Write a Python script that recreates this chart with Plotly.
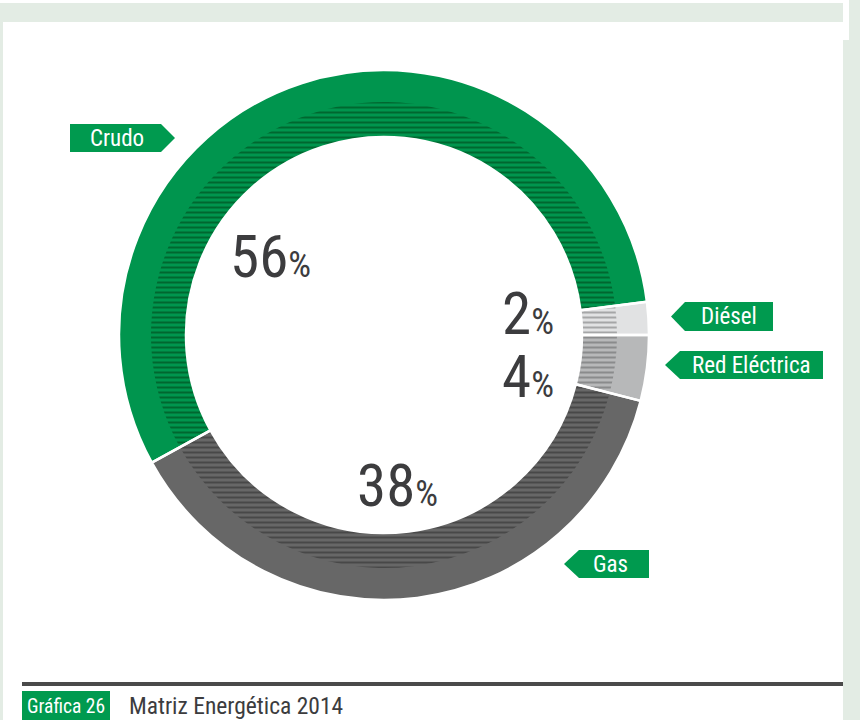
import plotly.graph_objects as go

# Energy matrix 2014 (share of total, %)
labels = ["Diésel", "Red Eléctrica", "Gas", "Crudo"]
values = [2, 4, 38, 56]
slice_colors = ["#e1e2e3", "#b7b8b9", "#676767", "#00954e"]
stripe_colors = ["#a5a6a7", "#8a8b8c", "#484848", "#00672f"]

title_tag = "Gráfica 26"
title_text = "Matriz Energética 2014"

W, H = 860, 720
CX, CY = 384, 335          # donut centre (px)
R_OUT, R_STRIPE, R_IN = 265, 233, 198

FONT = "Roboto Condensed, Liberation Sans Narrow, Roboto, sans-serif"
GREEN = "#009a4f"
TEXT = "#3c3c3e"
FRAME = "#e3ece4"


def px(x):
    return x / W


def py(y):
    return 1 - y / H


def domain(r):
    return dict(x=[px(CX - r), px(CX + r)], y=[py(CY + r), py(CY - r)])


start = 90 - 360 * values[0] / 100   # first slice (Diésel) ends at 3 o'clock
common = dict(labels=labels, values=values, sort=False, direction="clockwise",
              rotation=start, textinfo="none", showlegend=False)

# solid ring
fig = go.Figure()
fig.add_trace(go.Pie(
    **common, hole=R_IN / R_OUT, domain=domain(R_OUT),
    marker=dict(colors=slice_colors, line=dict(width=0)),
    hoverinfo="label+percent",
))

# striped inner band
fig.add_trace(go.Pie(
    **common, hole=R_IN / R_STRIPE, domain=domain(R_STRIPE),
    marker=dict(
        colors=slice_colors, line=dict(width=0),
        pattern=dict(shape="-", fillmode="overlay", fgcolor=stripe_colors,
                     bgcolor=slice_colors, fgopacity=1, size=5, solidity=0.4),
    ),
    hoverinfo="skip",
))

# white separators between slices
fig.add_trace(go.Pie(
    **common, hole=R_IN / R_OUT, domain=domain(R_OUT),
    marker=dict(colors=["rgba(0,0,0,0)"] * len(values),
                line=dict(color="white", width=2.5)),
    hoverinfo="skip",
))

shapes = []


def rect(x0, y0, x1, y1, color):
    shapes.append(dict(type="rect", xref="paper", yref="paper",
                       x0=px(x0), x1=px(x1), y0=py(y1), y1=py(y0),
                       fillcolor=color, line=dict(width=0), layer="below"))


# page frame
rect(0, 3, 843, 22, FRAME)
rect(0, 22, 3, 720, FRAME)
rect(843, 40, 860, 720, FRAME)
rect(849, 0, 860, 40, FRAME)

# bottom rule and caption tag
rect(22, 682, 843, 686, "#4a4a4a")
rect(22, 691, 110, 720, GREEN)


def tag(x_tip, x_body0, x_body1, y0, y1, pointing):
    ym = (y0 + y1) / 2
    if pointing == "left":
        pts = [(x_tip, ym), (x_body0, y0), (x_body1, y0), (x_body1, y1), (x_body0, y1)]
    else:
        pts = [(x_body0, y0), (x_body1, y0), (x_tip, ym), (x_body1, y1), (x_body0, y1)]
    path = "M " + " L ".join(f"{px(a):.5f},{py(b):.5f}" for a, b in pts) + " Z"
    shapes.append(dict(type="path", xref="paper", yref="paper", path=path,
                       fillcolor=GREEN, line=dict(width=0)))


annotations = []


def label(text, x, y, size, color, anchor="center"):
    annotations.append(dict(text=text, x=px(x), y=py(y), xref="paper", yref="paper",
                            xanchor=anchor, yanchor="middle", showarrow=False,
                            font=dict(family=FONT, size=size, color=color)))


# category tags
tag(175, 70, 161, 124, 152, "right")
label(labels[3], 117, 138, 23, "white")
tag(671, 685, 773, 302, 331, "left")
label(labels[0], 729, 316.5, 23, "white")
tag(665, 680, 823, 351, 379, "left")
label(labels[1], 751, 365, 23, "white")
tag(564, 579, 649, 550, 578, "left")
label(labels[2], 610, 564, 23, "white")


def pct(v):
    return f"{v}<span style='font-size:36px'>%</span>"


label(pct(values[3]), 228, 256, 59, TEXT, "left")
label(pct(values[0]), 500, 313, 59, TEXT, "left")
label(pct(values[1]), 500, 376, 59, TEXT, "left")
label(pct(values[2]), 355, 485, 59, TEXT, "left")

# caption
label(title_tag, 66, 706, 19.5, "white")
label(title_text, 127, 706, 23.5, TEXT, "left")

fig.update_layout(
    width=W, height=H, margin=dict(l=0, r=0, t=0, b=0),
    paper_bgcolor="white", plot_bgcolor="white",
    shapes=shapes, annotations=annotations, showlegend=False,
)

fig.write_html("out.html")
